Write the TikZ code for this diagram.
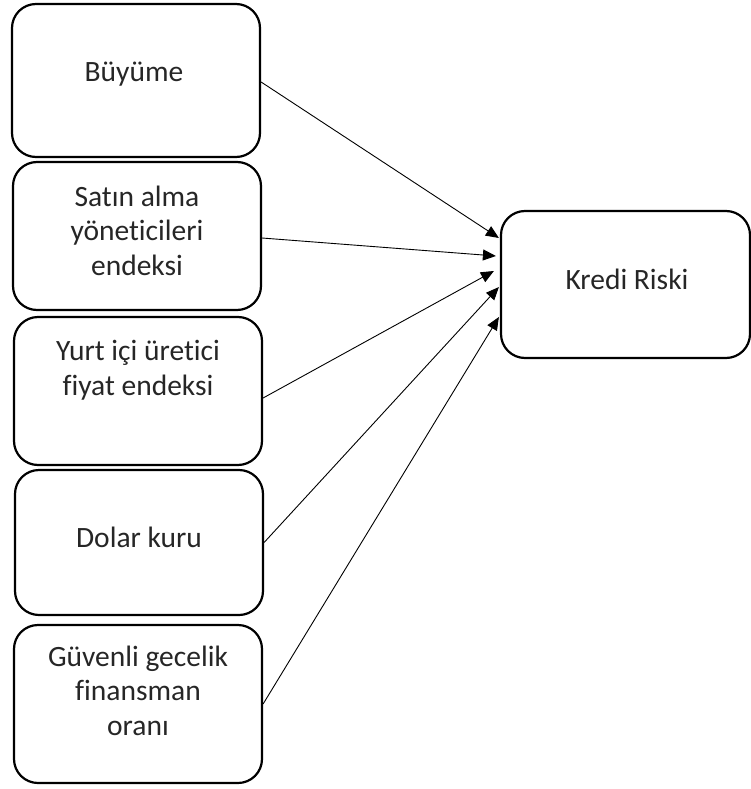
\documentclass[tikz,border=0pt]{standalone}
\usepackage{fontspec}
\setmainfont{Carlito}[Ligatures={NoCommon,NoContextual}]
\usetikzlibrary{arrows.meta}
\begin{document}
\begin{tikzpicture}[x=1pt,y=-1pt,
  box/.style={draw=black,line width=2.2pt,rounded corners=24pt,minimum width=248pt,inner sep=0pt},
  lbl/.style={font=\fontsize{29.5}{34.5}\selectfont,align=center,anchor=base,inner sep=0pt,text=black!85},
  conn/.style={line width=0.9pt,-{Triangle[length=13pt,width=11pt]}}]
\useasboundingbox (0,0) rectangle (751,789);
\node[box,minimum height=153pt] (b1) at (136,80.5) {};
\node[box,minimum height=148pt] (b2) at (137,236) {};
\node[box,minimum height=148pt] (b3) at (138,391) {};
\node[box,minimum height=145pt] (b4) at (139,542.5) {};
\node[box,minimum height=158pt] (b5) at (138,704) {};
\node[box,minimum width=249pt,minimum height=147pt] (k) at (625.5,284.5) {};
\node[lbl] (t1) at (134,82) {Büyüme};
\node[lbl] (t2) at (137,275) {Satın alma\\yöneticileri\\endeksi};
\node[lbl] (t3) at (138,395) {Yurt içi üretici\\fiyat endeksi};
\node[lbl] (t4) at (139,547) {Dolar kuru};
\node[lbl] (t5) at (138,735) {Güvenli gecelik\\finansman\\oranı};
\node[lbl] (tk) at (627,289) {Kredi Riski};
\draw[conn] ([yshift=-1.5pt]b1.east) -- ([xshift=-1pt,yshift=46.5pt]k.west);
\draw[conn] ([yshift=-2pt]b2.east) -- ([xshift=-4pt,yshift=28.5pt]k.west);
\draw[conn] ([yshift=-7pt]b3.east) -- ([xshift=-6pt,yshift=13.5pt]k.west);
\draw[conn] (b4.east) -- ([xshift=-1pt,yshift=-2.5pt]k.west);
\draw[conn] (b5.east) -- ([xshift=-1pt,yshift=-32.5pt]k.west);
\end{tikzpicture}
\end{document}
